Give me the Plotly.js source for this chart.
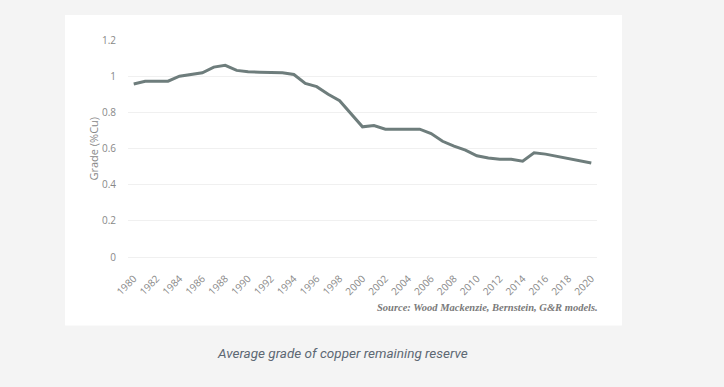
<!DOCTYPE html>
<html>
<head>
<meta charset="utf-8">
<script src="https://cdn.plot.ly/plotly-3.0.1.min.js"></script>
<style>html,body{margin:0;padding:0;background:#f4f4f4;}#chart{width:724px;height:387px;}</style>
</head>
<body>
<div id="chart"></div>
<script>
const years = [1980,1981,1982,1983,1984,1985,1986,1987,1988,1989,1990,1991,1992,1993,1994,1995,1996,1997,1998,1999,2000,2001,2002,2003,2004,2005,2006,2007,2008,2009,2010,2011,2012,2013,2014,2015,2016,2017,2018,2019,2020];
const grade = [0.957,0.972,0.972,0.972,1.0,1.011,1.019,1.05,1.06,1.032,1.024,1.022,1.019,1.019,1.009,0.96,0.942,0.90,0.864,0.79,0.72,0.727,0.707,0.707,0.707,0.707,0.683,0.64,0.613,0.591,0.56,0.548,0.541,0.541,0.53,0.576,0.569,0.556,0.547,0.532,0.52];
const tickYears = [1980,1982,1984,1986,1988,1990,1992,1994,1996,1998,2000,2002,2004,2006,2008,2010,2012,2014,2016,2018,2020];
const yTitle = "Grade (%Cu)";
const sourceText = "Source: Wood Mackenzie, Bernstein, G&R models.";
const captionText = "Average grade of copper remaining reserve";

const trace = {
  x: years, y: grade, type: 'scatter', mode: 'lines',
  line: {color: '#6e7d7c', width: 3}, hoverinfo: 'skip'
};
const layout = {
  width: 724, height: 387,
  margin: {l: 128, r: 127, t: 40, b: 130.3},
  paper_bgcolor: '#f4f4f4', plot_bgcolor: 'rgba(0,0,0,0)',
  showlegend: false,
  font: {family: 'Open Sans, sans-serif', color: '#888888', size: 10},
  xaxis: {
    range: [1979.5, 2020.5], tickmode: 'array', tickvals: tickYears,
    ticktext: tickYears.map(String), tickangle: -45,
    showgrid: false, zeroline: false, showline: false,
    ticks: 'outside', ticklen: 11, tickcolor: 'rgba(0,0,0,0)',
    tickfont: {size: 10, color: '#888888'}, fixedrange: true
  },
  yaxis: {
    range: [0, 1.2], dtick: 0.2, tick0: 0,
    showgrid: true, gridcolor: '#f0f0f0', gridwidth: 1,
    zeroline: true, zerolinecolor: '#f0f0f0', zerolinewidth: 1, showline: false,
    ticks: 'outside', ticklen: 9, tickcolor: 'rgba(0,0,0,0)',
    tickfont: {size: 10, color: '#888888'}, fixedrange: true
  },
  shapes: [{
    type: 'rect', xref: 'paper', yref: 'paper', layer: 'below',
    x0: -0.1343, x1: 1.0533, y0: -0.3152, y1: 1.1154,
    fillcolor: '#ffffff', line: {width: 0}
  }],
  annotations: [
    {text: yTitle, xref: 'paper', yref: 'paper', x: -0.0746, y: 0.5,
     xanchor: 'center', yanchor: 'middle', textangle: -90, showarrow: false,
     font: {size: 11, color: '#888888', family: 'Open Sans, sans-serif'}},
    {text: '<i><b>' + sourceText.replace('&', '&amp;') + '</b></i>', xref: 'paper', yref: 'paper',
     x: 1.0064, y: -0.2307, xanchor: 'right', yanchor: 'middle', showarrow: false,
     font: {size: 10.5, color: '#7a7a7a', family: 'Liberation Serif, serif'}},
    {text: '<i>' + captionText + '</i>', xref: 'paper', yref: 'paper',
     x: 0.4584, y: -0.4444, xanchor: 'center', yanchor: 'middle', showarrow: false,
     font: {size: 13.5, color: '#5d6873', family: 'Roboto, sans-serif'}}
  ]
};
Plotly.newPlot('chart', [trace], layout, {displayModeBar: false, staticPlot: true});
</script>
</body>
</html>
